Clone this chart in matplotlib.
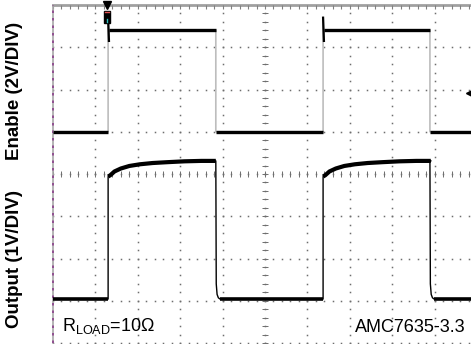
import numpy as np
import matplotlib.pyplot as plt
from matplotlib.patches import Rectangle

plt.rcParams['font.family'] = ['Liberation Sans', 'DejaVu Sans']

# scope screen is 10 x 8 divisions; time is given in divisions
rise_times = [1.30, 6.37]   # enable rising edges
fall_times = [3.84, 8.89]   # enable falling edges
x_end = 9.95

# enable channel: 2 V/div, ground on division 5
enable_gnd_div = 5.0
enable_vdiv = 2.0
enable_low = 0.0
enable_high = 4.8
enable_spike = [5.4, 4.3]    # overshoot / undershoot on the rising edge (V)
trigger_level = 1.85

# output channel: 1 V/div, ground on division 1
output_gnd_div = 1.0
output_vdiv = 1.0
output_low = 0.04
out_rise_dt = [0.0, 0.0, 0.05, 0.15, 0.30, 0.50, 0.75, 1.05, 1.40, 1.80, 2.20, 2.54]
out_rise_v = [0.04, 2.94, 2.97, 3.06, 3.13, 3.19, 3.23, 3.26, 3.28, 3.30, 3.31, 3.31]
out_fall_dt = [0.0, 0.01, 0.03, 0.06, 0.10]
out_fall_v = [3.31, 0.40, 0.15, 0.07, 0.04]

W, H = 471, 344
fig = plt.figure(figsize=(W / 100, H / 100), dpi=100)
ax = fig.add_axes([53 / W, 1 / H, 424 / W, 338 / H])
ax.set_xlim(0, 10)
ax.set_ylim(0, 8)
ax.axis('off')

# graticule: dotted division lines, ticked centre lines
grid_col = '#6e6e6e'
xs = np.arange(0, 10.01, 0.2)
ys = np.arange(0, 8.01, 0.2)
for gx in range(1, 10):
    ax.plot(np.full(len(ys), gx), ys, ls='none', marker='s', ms=1.1, mew=0, color=grid_col)
for gy in range(0, 8):
    ax.plot(xs, np.full(len(xs), gy), ls='none', marker='s', ms=1.1, mew=0, color=grid_col)
ax.plot(xs, np.full(len(xs), 4), ls='none', marker='|', ms=5, mew=0.7, color=grid_col)
ax.plot(np.full(len(ys), 5), ys, ls='none', marker='_', ms=5, mew=0.7, color=grid_col)

# screen frame
ax.plot([0, 10], [8, 8], color='#a0a0a0', lw=2.0, clip_on=False)
ax.plot(xs, np.full(len(xs), 7.96), ls='none', marker='|', ms=3, mew=0.8, color='#808080', clip_on=False)
ax.plot([0, 0], [0, 8], color='#a8a8a8', lw=1.2, clip_on=False)
ax.plot([0, 0], [0, 8], color='#8a3d8a', lw=1.2, dashes=(1.5, 3), clip_on=False)


def enable_div(v):
    return enable_gnd_div + np.asarray(v) / enable_vdiv


def output_div(v):
    return output_gnd_div + np.asarray(v) / output_vdiv


# enable trace
et, ev = [0.0], [enable_low]
for r, f in zip(rise_times, fall_times):
    et += [r, r, r, r + 0.02, r + 0.06, f, f]
    ev += [enable_low, enable_spike[0], enable_spike[1], enable_high, enable_high, enable_high, enable_low]
et.append(x_end)
ev.append(enable_low)
ax.plot(et, enable_div(ev), color='#bdbdbd', lw=1.2)

starts = [0.0] + fall_times
stops = rise_times + [x_end]
for a, b in zip(starts, stops):
    ax.plot([a, b], enable_div([enable_low, enable_low]), color='black', lw=2.4, solid_capstyle='butt')
for r, f in zip(rise_times, fall_times):
    ax.plot([r, r + 0.02], enable_div(enable_spike), color='black', lw=1.6)
    ax.plot([r + 0.03, f], enable_div([enable_high, enable_high]), color='black', lw=2.4, solid_capstyle='butt')

# output trace
ot, ov = [0.0], [output_low]
for r, f in zip(rise_times, fall_times):
    ot += [r + d for d in out_rise_dt]
    ov += out_rise_v
    ot += [f + d for d in out_fall_dt]
    ov += out_fall_v
ot.append(x_end)
ov.append(output_low)
ax.plot(ot, output_div(ov), color='black', lw=1.0)

for a, b in zip(starts, stops):
    a0 = a + (out_fall_dt[-1] if a > 0 else 0)
    ax.plot([a0, b], output_div([output_low, output_low]), color='black', lw=2.6, solid_capstyle='butt')
for r, f in zip(rise_times, fall_times):
    ht = [r + d for d in out_rise_dt[1:]]
    ax.plot(ht, output_div(out_rise_v[1:]), color='black', lw=3.0, solid_capstyle='butt')

# trigger position and level markers
tx = rise_times[0] - 0.02
ax.plot([tx], [8.0], marker='v', ms=6, color='black', clip_on=False)
ax.add_patch(Rectangle((tx - 0.07, 7.58), 0.14, 0.28, color='black', zorder=5))
ax.plot([tx - 0.05, tx + 0.05], [7.84, 7.84], color='#e05050', lw=1.0, zorder=6)
ax.plot([tx, tx], [7.6, 7.68], color='#30c0c0', lw=1.0, zorder=6)
ax.plot([9.85], enable_div([trigger_level]), marker='<', ms=7, color='black', clip_on=False)

# channel labels and notes
fig.text(15 / W, 1 - 91 / H, 'Enable (2V/DIV)', rotation=90, ha='center', va='center',
         fontsize=13.5, fontweight='bold')
fig.text(15 / W, 1 - 259 / H, 'Output (1V/DIV)', rotation=90, ha='center', va='center',
         fontsize=13.5, fontweight='bold')
fig.text(62 / W, 1 - 331 / H, r'R$_{\mathregular{LOAD}}$=10Ω', ha='left', va='baseline', fontsize=13)
fig.text(355 / W, 1 - 332 / H, 'AMC7635-3.3', ha='left', va='baseline', fontsize=13)

fig.savefig('out.png', dpi=100)
